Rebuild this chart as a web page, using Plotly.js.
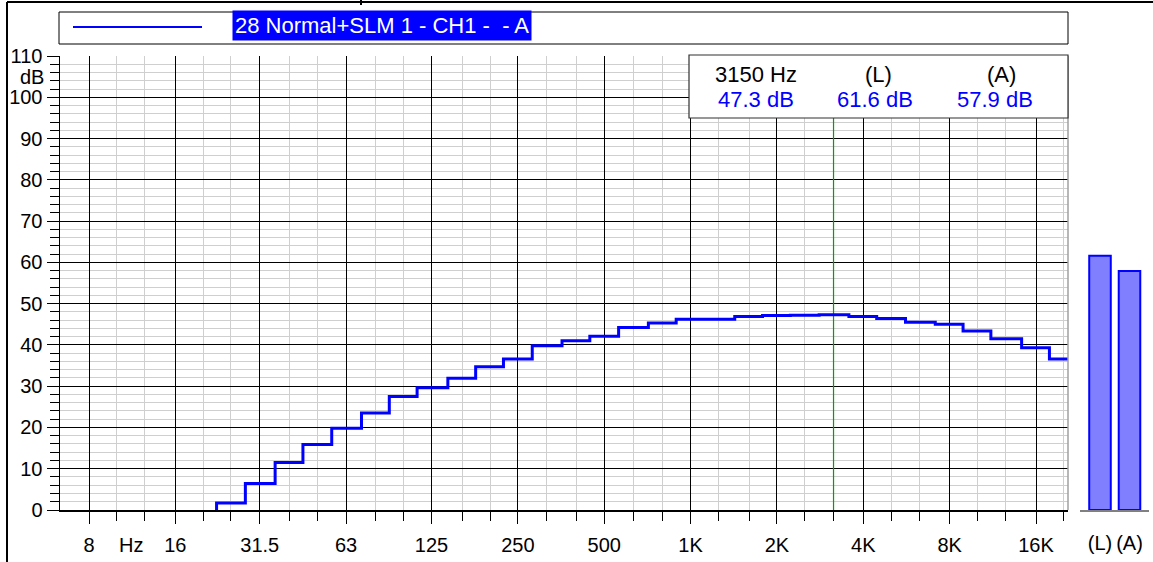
<!DOCTYPE html>
<html>
<head>
<meta charset="utf-8">
<script src="https://cdn.plot.ly/plotly-3.0.1.min.js"></script>
<style>html,body{margin:0;padding:0;background:#fff;}#chart{width:1153px;height:562px;}</style>
</head>
<body>
<div id="chart"></div>
<script>
// ---- data ----
const bands = [25, 31.5, 40, 50, 63, 80, 100, 125, 160, 200, 250, 315, 400, 500, 630, 800,
  1000, 1250, 1600, 2000, 2500, 3150, 4000, 5000, 6300, 8000, 10000, 12500, 16000, 20000];
const levels = [1.7, 6.4, 11.5, 15.9, 19.8, 23.5, 27.5, 29.6, 31.9, 34.7, 36.6, 39.8, 41.0, 42.1,
  44.2, 45.3, 46.2, 46.2, 46.9, 47.1, 47.2, 47.3, 46.9, 46.4, 45.5, 45.0, 43.4, 41.5, 39.3, 36.6];
const octaveTicks = [8, 16, 31.5, 63, 125, 250, 500, 1000, 2000, 4000, 8000, 16000];
const octaveLabels = ['8', '16', '31.5', '63', '125', '250', '500', '1K', '2K', '4K', '8K', '16K'];
const thirdTicks = [6.3, 10, 12.5, 20, 25, 40, 50, 80, 100, 160, 200, 315, 400, 630, 800, 1250, 1600,
  2500, 3150, 5000, 6300, 10000, 12500, 20000];
const overallNames = ['(L)', '(A)'];
const overallValues = [61.6, 57.9];
const cursorHz = 3150;
const cursorLevel = 47.3;
const legendName = '28 Normal+SLM 1 - CH1 -\u00A0\u00A0- A';

// ---- geometry helpers (page pixels -> paper) ----
const W = 1153, H = 562;
const px = v => v / W;
const py = v => (H - v) / H;
const FONT = 'Liberation Sans, Arial, sans-serif';
const TICK = 20, TXT = 22;

// step outline: lower band edges, closing at upper edge of last band
const half = Math.pow(2, 1 / 6);
const stepX = [bands[0] / half].concat(bands.map(b => b / half), [bands[bands.length - 1] * half]);
const stepY = [0].concat(levels, [levels[levels.length - 1]]);

const traces = [
  {
    x: stepX, y: stepY, type: 'scatter', mode: 'lines',
    line: {color: '#0000ff', width: 3, shape: 'hv'},
    xaxis: 'x', yaxis: 'y', hoverinfo: 'skip'
  },
  {
    x: [0, 1], y: overallValues, type: 'bar', width: 0.73,
    marker: {color: '#8080ff', line: {color: '#0000ff', width: 2}},
    xaxis: 'x2', yaxis: 'y2', hoverinfo: 'skip'
  }
];

const layout = {
  width: W, height: H,
  margin: {l: 0, r: 0, t: 0, b: 0},
  paper_bgcolor: '#ffffff', plot_bgcolor: '#ffffff',
  showlegend: false,
  font: {family: FONT, size: TXT, color: '#000'},
  xaxis: {
    type: 'log', range: [0.802, 4.3156], domain: [px(60), px(1068)],
    showgrid: true, gridcolor: '#000000', gridwidth: 1,
    tickmode: 'array', tickvals: octaveTicks, ticktext: octaveLabels,
    ticks: 'outside', ticklen: 12, tickcolor: '#000', tickwidth: 1,
    ticklabelstandoff: 4,
    minor: {tickmode: 'array', tickvals: thirdTicks, showgrid: true, gridcolor: '#cfcfcf',
            gridwidth: 1, ticks: 'outside', ticklen: 9, tickcolor: '#000'},
    showline: true, linecolor: '#000', linewidth: 2,
    zeroline: false, fixedrange: true,
    tickfont: {family: FONT, size: TICK, color: '#000'},
    anchor: 'y'
  },
  yaxis: {
    anchor: 'x',
    range: [0, 110], domain: [py(510), py(56)],
    showgrid: true, gridcolor: '#000000', gridwidth: 1,
    tickvals: [0, 10, 20, 30, 40, 50, 60, 70, 80, 90, 100, 110],
    ticks: 'outside', ticklen: 12, tickcolor: '#000', tickwidth: 1,
    minor: {dtick: 2, tick0: 0, showgrid: true, gridcolor: '#cfcfcf', gridwidth: 1,
            ticks: 'outside', ticklen: 9, tickcolor: '#000'},
    showline: true, linecolor: '#000', linewidth: 1.5,
    zeroline: false, fixedrange: true,
    tickfont: {family: FONT, size: TICK, color: '#000'}
  },
  xaxis2: {
    domain: [px(1080), px(1149)], range: [-0.678, 1.661], anchor: 'y2',
    tickmode: 'array', tickvals: [0, 1], ticktext: overallNames,
    ticks: '', showgrid: false, zeroline: false,
    showline: true, linecolor: '#808080', linewidth: 2,
    ticklabelstandoff: 14,
    tickfont: {family: FONT, size: TICK, color: '#000'}, fixedrange: true
  },
  yaxis2: {
    domain: [py(510), py(56)], range: [0, 110], anchor: 'x2',
    showgrid: false, showticklabels: false, ticks: '', zeroline: false, showline: false, fixedrange: true
  },
  shapes: [
    {type: 'line', xref: 'x', yref: 'y', x0: cursorHz, x1: cursorHz, y0: 0, y1: 110,
     line: {color: '#00a000', width: 1.2}, layer: 'between'},
    {type: 'line', xref: 'paper', yref: 'paper', x0: px(1068), x1: px(1068), y0: py(510), y1: py(56),
     line: {color: '#a0a0a0', width: 1.5}, layer: 'above'},
    {type: 'rect', xref: 'paper', yref: 'paper', x0: px(689), x1: px(1068), y0: py(118), y1: py(55),
     fillcolor: '#ffffff', line: {color: '#303030', width: 1.2}, layer: 'above'},
    {type: 'rect', xref: 'paper', yref: 'paper', x0: px(59), x1: px(1068), y0: py(44), y1: py(12),
     fillcolor: '#ffffff', line: {color: '#000000', width: 1}, layer: 'above'},
    {type: 'line', xref: 'paper', yref: 'paper', x0: px(73), x1: px(202), y0: py(27), y1: py(27),
     line: {color: '#0000ff', width: 2}, layer: 'above'},
    {type: 'line', xref: 'paper', yref: 'paper', x0: px(7), x1: px(1153), y0: py(2), y1: py(2),
     line: {color: '#000', width: 2}, layer: 'above'},
    {type: 'line', xref: 'paper', yref: 'paper', x0: px(7), x1: px(7), y0: py(2), y1: py(562),
     line: {color: '#000', width: 2}, layer: 'above'},
    {type: 'line', xref: 'paper', yref: 'paper', x0: px(361), x1: px(361), y0: py(0), y1: py(5),
     line: {color: '#000', width: 2}, layer: 'above'}
  ],
  annotations: [
    {xref: 'paper', yref: 'paper', x: px(382), y: py(26), text: legendName, showarrow: false,
     xanchor: 'center', yanchor: 'middle', bgcolor: '#0000ff', borderpad: 2,
     font: {family: FONT, size: TXT, color: '#ffffff'}},
    {xref: 'paper', yref: 'y', x: px(46), y: 105, text: 'dB', showarrow: false,
     xanchor: 'right', yanchor: 'middle', font: {family: FONT, size: TICK, color: '#000'}},
    {xref: 'paper', yref: 'paper', x: px(131), y: py(545), text: 'Hz', showarrow: false,
     xanchor: 'center', yanchor: 'middle', font: {family: FONT, size: TICK, color: '#000'}},
    {xref: 'paper', yref: 'paper', x: px(756), y: py(75), text: cursorHz + ' Hz', showarrow: false,
     xanchor: 'center', yanchor: 'middle', font: {family: FONT, size: TXT, color: '#000'}},
    {xref: 'paper', yref: 'paper', x: px(756), y: py(100), text: cursorLevel.toFixed(1) + ' dB', showarrow: false,
     xanchor: 'center', yanchor: 'middle', font: {family: FONT, size: TXT, color: '#0000ff'}},
    {xref: 'paper', yref: 'paper', x: px(879), y: py(75), text: overallNames[0], showarrow: false,
     xanchor: 'center', yanchor: 'middle', font: {family: FONT, size: TXT, color: '#000'}},
    {xref: 'paper', yref: 'paper', x: px(875), y: py(100), text: overallValues[0].toFixed(1) + ' dB', showarrow: false,
     xanchor: 'center', yanchor: 'middle', font: {family: FONT, size: TXT, color: '#0000ff'}},
    {xref: 'paper', yref: 'paper', x: px(1001), y: py(75), text: overallNames[1], showarrow: false,
     xanchor: 'center', yanchor: 'middle', font: {family: FONT, size: TXT, color: '#000'}},
    {xref: 'paper', yref: 'paper', x: px(995), y: py(100), text: overallValues[1].toFixed(1) + ' dB', showarrow: false,
     xanchor: 'center', yanchor: 'middle', font: {family: FONT, size: TXT, color: '#0000ff'}}
  ]
};

Plotly.newPlot('chart', traces, layout, {staticPlot: true, displayModeBar: false});
</script>
</body>
</html>
